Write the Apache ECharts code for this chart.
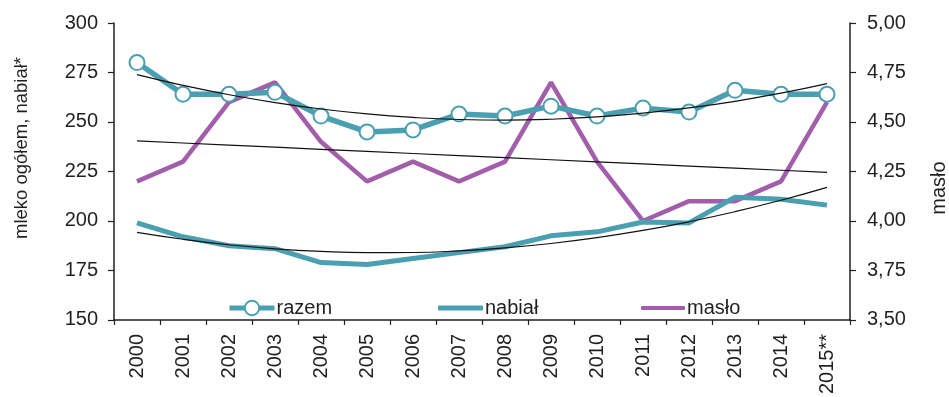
<!DOCTYPE html>
<html>
<head>
<meta charset="utf-8">
<script src="https://cdn.jsdelivr.net/npm/echarts@6/dist/echarts.min.js"></script>
<style>
  html, body { margin: 0; padding: 0; background: #fff; }
  #chart { width: 949px; height: 397px; }
</style>
</head>
<body>
<div id="chart"></div>
<script>
// Years on the category axis
const years = ['2000', '2001', '2002', '2003', '2004', '2005', '2006', '2007',
               '2008', '2009', '2010', '2011', '2012', '2013', '2014', '2015**'];

// Milk total and dairy (left axis)
const razem = [280, 264, 264, 265, 253, 245, 246, 254, 253, 258, 253, 257, 255, 266, 264, 264];
const nabial = [199, 192, 187.5, 186, 179, 178, 181, 184, 187, 192.5, 194.5, 199.5, 199, 212, 211, 208];

// Butter (right axis)
const maslo = [4.20, 4.30, 4.60, 4.70, 4.40, 4.20, 4.30, 4.20, 4.30, 4.70, 4.30, 4.00, 4.10, 4.10, 4.20, 4.60];

// Axis ranges and tick steps
const leftTicks = { min: 150, max: 300, step: 25 };
const rightTicks = { min: 3.5, max: 5.0, step: 0.25 };

// Least-squares polynomial fit over x = 0..n-1, returns fitted values at each x
function polyTrend(ys, degree) {
  const n = degree + 1;
  const A = [], b = [];
  for (let r = 0; r < n; r++) {
    A.push(new Array(n).fill(0));
    b.push(0);
  }
  ys.forEach((y, x) => {
    for (let r = 0; r < n; r++) {
      for (let c = 0; c < n; c++) A[r][c] += Math.pow(x, r + c);
      b[r] += y * Math.pow(x, r);
    }
  });
  // Gaussian elimination
  for (let i = 0; i < n; i++) {
    let p = i;
    for (let k = i + 1; k < n; k++) if (Math.abs(A[k][i]) > Math.abs(A[p][i])) p = k;
    [A[i], A[p]] = [A[p], A[i]];
    [b[i], b[p]] = [b[p], b[i]];
    for (let k = i + 1; k < n; k++) {
      const f = A[k][i] / A[i][i];
      for (let c = i; c < n; c++) A[k][c] -= f * A[i][c];
      b[k] -= f * b[i];
    }
  }
  const coef = new Array(n).fill(0);
  for (let i = n - 1; i >= 0; i--) {
    let s = b[i];
    for (let c = i + 1; c < n; c++) s -= A[i][c] * coef[c];
    coef[i] = s / A[i][i];
  }
  return ys.map((_, x) => coef.reduce((acc, a, k) => acc + a * Math.pow(x, k), 0));
}

const razemTrend = polyTrend(razem, 2);
const nabialTrend = polyTrend(nabial, 2);
const masloTrend = polyTrend(maslo, 1);

const TEAL = '#4a9fb0';
const PURPLE = '#a35eab';
const INK = '#231f20';
const FONT = '"Liberation Sans", Arial, sans-serif';

const chart = echarts.init(document.getElementById('chart'), null, { renderer: 'canvas' });

const trendStyle = { color: '#111', width: 1.2 };

const legendText = { fontFamily: FONT, fontSize: 20, color: INK, padding: [0, 0, 0, -3] };

chart.setOption({
  animation: false,
  backgroundColor: '#fff',
  grid: { left: 114, right: 99, top: 23, bottom: 74, containLabel: false },
  legend: [
    {
      left: 227, top: 298, padding: 0,
      itemWidth: 45, itemHeight: 18, itemGap: 0,
      selectedMode: false,
      textStyle: legendText,
      data: [{
        name: 'razem',
        itemStyle: { color: '#fff', borderColor: TEAL, borderWidth: 2 },
        lineStyle: { color: TEAL, width: 5 }
      }]
    },
    {
      left: 438, top: 298, padding: 0,
      itemWidth: 45, itemHeight: 5, itemGap: 0,
      selectedMode: false,
      textStyle: legendText,
      data: [{ name: 'nabiał', icon: 'roundRect', itemStyle: { color: TEAL } }]
    },
    {
      left: 641, top: 298, padding: 0,
      itemWidth: 44, itemHeight: 4, itemGap: 0,
      selectedMode: false,
      textStyle: legendText,
      data: [{ name: 'masło', icon: 'roundRect', itemStyle: { color: PURPLE } }]
    }
  ],
  xAxis: {
    type: 'category',
    data: years,
    boundaryGap: true,
    axisLine: { lineStyle: { color: INK, width: 1.5 } },
    axisTick: { show: true, length: 5, lineStyle: { color: INK, width: 1.2 } },
    axisLabel: { rotate: 90, margin: 14, fontFamily: FONT, fontSize: 20, color: INK },
    splitLine: { show: false }
  },
  yAxis: [
    {
      type: 'value',
      position: 'left',
      min: leftTicks.min,
      max: leftTicks.max,
      interval: leftTicks.step,
      axisLine: { show: true, lineStyle: { color: INK, width: 1.5 } },
      axisTick: { show: true, length: 6, lineStyle: { color: INK, width: 1.2 } },
      axisLabel: { margin: 16, fontFamily: FONT, fontSize: 20, color: INK },
      splitLine: { show: false }
    },
    {
      type: 'value',
      position: 'right',
      min: rightTicks.min,
      max: rightTicks.max,
      interval: rightTicks.step,
      axisLine: { show: true, lineStyle: { color: INK, width: 1.5 } },
      axisTick: { show: true, length: 6, lineStyle: { color: INK, width: 1.2 } },
      axisLabel: {
        margin: 17, fontFamily: FONT, fontSize: 20, color: INK,
        formatter: v => v.toFixed(2).replace('.', ',')
      },
      splitLine: { show: false }
    }
  ],
  graphic: [
    {
      type: 'text',
      x: 22, y: 148,
      rotation: Math.PI / 2,
      style: {
        text: 'mleko ogółem, nabiał*',
        fontFamily: FONT, fontSize: 18.5, fill: INK,
        align: 'center', verticalAlign: 'middle'
      }
    },
    {
      type: 'text',
      x: 939, y: 188,
      rotation: Math.PI / 2,
      style: {
        text: 'masło',
        fontFamily: FONT, fontSize: 20, fill: INK,
        align: 'center', verticalAlign: 'middle'
      }
    }
  ],
  series: [
    {
      name: 'masło',
      type: 'line',
      yAxisIndex: 1,
      data: maslo,
      symbol: 'none',
      lineStyle: { color: PURPLE, width: 4.5 },
      itemStyle: { color: PURPLE },
      z: 2
    },
    {
      name: 'nabiał',
      type: 'line',
      yAxisIndex: 0,
      data: nabial,
      symbol: 'none',
      lineStyle: { color: TEAL, width: 5 },
      itemStyle: { color: TEAL },
      z: 2
    },
    {
      name: 'razem',
      type: 'line',
      yAxisIndex: 0,
      data: razem,
      symbol: 'circle',
      symbolSize: 15,
      lineStyle: { color: TEAL, width: 5.5 },
      itemStyle: { color: '#fff', borderColor: TEAL, borderWidth: 2 },
      z: 3
    },
    {
      name: 'trend razem',
      type: 'line',
      yAxisIndex: 0,
      data: razemTrend,
      symbol: 'none',
      smooth: true,
      lineStyle: trendStyle,
      z: 4
    },
    {
      name: 'trend nabiał',
      type: 'line',
      yAxisIndex: 0,
      data: nabialTrend,
      symbol: 'none',
      smooth: true,
      lineStyle: trendStyle,
      z: 4
    },
    {
      name: 'trend masło',
      type: 'line',
      yAxisIndex: 1,
      data: masloTrend,
      symbol: 'none',
      lineStyle: trendStyle,
      z: 4
    }
  ]
});
</script>
</body>
</html>
